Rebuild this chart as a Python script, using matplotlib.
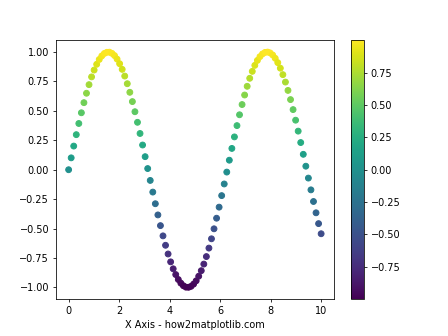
import matplotlib
matplotlib.use("Agg")
import matplotlib.pyplot as plt

x_values = [0.000, 0.101, 0.202, 0.303, 0.404, 0.505, 0.606, 0.707, 0.808, 0.909,
            1.010, 1.111, 1.212, 1.313, 1.414, 1.515, 1.616, 1.717, 1.818, 1.919,
            2.020, 2.121, 2.222, 2.323, 2.424, 2.525, 2.626, 2.727, 2.828, 2.929,
            3.030, 3.131, 3.232, 3.333, 3.434, 3.535, 3.636, 3.737, 3.838, 3.939,
            4.040, 4.141, 4.242, 4.343, 4.444, 4.545, 4.646, 4.747, 4.848, 4.949,
            5.051, 5.152, 5.253, 5.354, 5.455, 5.556, 5.657, 5.758, 5.859, 5.960,
            6.061, 6.162, 6.263, 6.364, 6.465, 6.566, 6.667, 6.768, 6.869, 6.970,
            7.071, 7.172, 7.273, 7.374, 7.475, 7.576, 7.677, 7.778, 7.879, 7.980,
            8.081, 8.182, 8.283, 8.384, 8.485, 8.586, 8.687, 8.788, 8.889, 8.990,
            9.091, 9.192, 9.293, 9.394, 9.495, 9.596, 9.697, 9.798, 9.899, 10.000]

y_values = [0.000, 0.101, 0.201, 0.298, 0.393, 0.484, 0.570, 0.650, 0.723, 0.789,
            0.847, 0.896, 0.937, 0.967, 0.988, 0.998, 0.999, 0.989, 0.970, 0.940,
            0.901, 0.853, 0.796, 0.731, 0.658, 0.579, 0.493, 0.403, 0.308, 0.210,
            0.111, 0.010, -0.091, -0.190, -0.289, -0.384, -0.475, -0.562, -0.642, -0.716,
            -0.783, -0.842, -0.891, -0.933, -0.964, -0.986, -0.998, -0.999, -0.991, -0.972,
            -0.944, -0.905, -0.858, -0.802, -0.738, -0.666, -0.587, -0.502, -0.412, -0.318,
            -0.220, -0.121, -0.020, 0.081, 0.181, 0.279, 0.375, 0.467, 0.554, 0.635,
            0.709, 0.777, 0.836, 0.887, 0.929, 0.961, 0.984, 0.997, 0.9998, 0.993,
            0.975, 0.947, 0.910, 0.863, 0.808, 0.745, 0.674, 0.596, 0.511, 0.421,
            0.328, 0.231, 0.131, 0.030, -0.071, -0.171, -0.270, -0.366, -0.458, -0.544]

fig, ax = plt.subplots(figsize=(6.4, 4.8), dpi=70)
sc = ax.scatter(x_values, y_values, c=y_values, cmap="viridis")
fig.colorbar(sc, ax=ax)
ax.set_xlabel("X Axis - how2matplotlib.com")
fig.savefig("out.png", dpi=70)
